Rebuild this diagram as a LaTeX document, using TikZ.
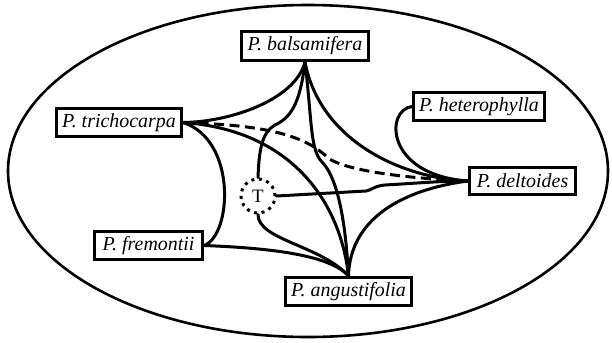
\documentclass[tikz,border=0pt]{standalone}
\usepackage{fontspec}
\setmainfont{Liberation Serif}
\begin{document}
\begin{tikzpicture}[x=1bp,y=-1bp,
  species/.style={draw=black,line width=3.2bp,fill=white,inner sep=0pt,
    font=\fontsize{20}{22}\selectfont\itshape},
  link/.style={line width=3bp,line cap=round},
  hybrid/.style={link,dash pattern=on 10bp off 5.5bp,line cap=butt},
  taxon/.style={circle,draw=black,line width=3bp,dash pattern=on 3bp off 4.6bp,
    minimum size=34bp,inner sep=0pt,font=\fontsize{19}{21}\selectfont}]
\useasboundingbox (0,0) rectangle (612,342);
% outer boundary
\draw[line width=2.6bp] (308,171) ellipse [x radius=300, y radius=166];

% species boxes
\node[species,minimum width=127bp,minimum height=29bp] (bals) at (305,46) {P. balsamifera};
\node[species,minimum width=125bp,minimum height=28bp] (tri) at (119,122.5) {P. trichocarpa};
\node[species,minimum width=131bp,minimum height=28bp] (het) at (479,106.5) {P. heterophylla};
\node[species,minimum width=106bp,minimum height=27bp] (del) at (522.5,181) {P. deltoides};
\node[species,minimum width=108bp,minimum height=28bp] (fre) at (148.5,245.5) {P. fremontii};
\node[species,minimum width=126bp,minimum height=28bp] (ang) at (348.5,291.5) {P. angustifolia};
\node[taxon] (T) at (258,196) {T};

% connectors from P. balsamifera
\draw[link] (bals.south) .. controls (295,100) and (230,122) .. (tri.east);
\draw[link] (bals.south) .. controls (300,105) and (290,118) .. (275,125)
  .. controls (262,132) and (259,150) .. (T.north);
\draw[link] (bals.south) .. controls (312,120) and (310,150) .. (322,162)
  .. controls (335,175) and (345,210) .. (ang.north);
\draw[link] (bals.south) .. controls (320,140) and (400,178) .. (del.west);

% connectors from P. trichocarpa
\draw[hybrid] (tri.east) .. controls (265,125) and (305,135) .. (328,158)
  .. controls (345,170) and (400,178) .. (del.west);
\draw[link] (tri.east) .. controls (290,130) and (340,200) .. (ang.north);
\draw[link] (tri.east) .. controls (237,140) and (232,235) .. (fre.east);

% remaining connectors
\draw[link] (fre.east) .. controls (270,248) and (330,255) .. (ang.north);
\draw[link] (T.south) .. controls (258,240) and (320,245) .. (ang.north);
\draw[link] (T.east) -- (366,191) .. controls (372,190) and (374,186) .. (385,185)
  .. controls (420,183) and (440,181) .. (del.west);
\draw[link] (het.west) .. controls (385,110) and (385,175) .. (del.west);
\draw[link] (del.west) .. controls (400,190) and (350,220) .. (ang.north);
\end{tikzpicture}
\end{document}
